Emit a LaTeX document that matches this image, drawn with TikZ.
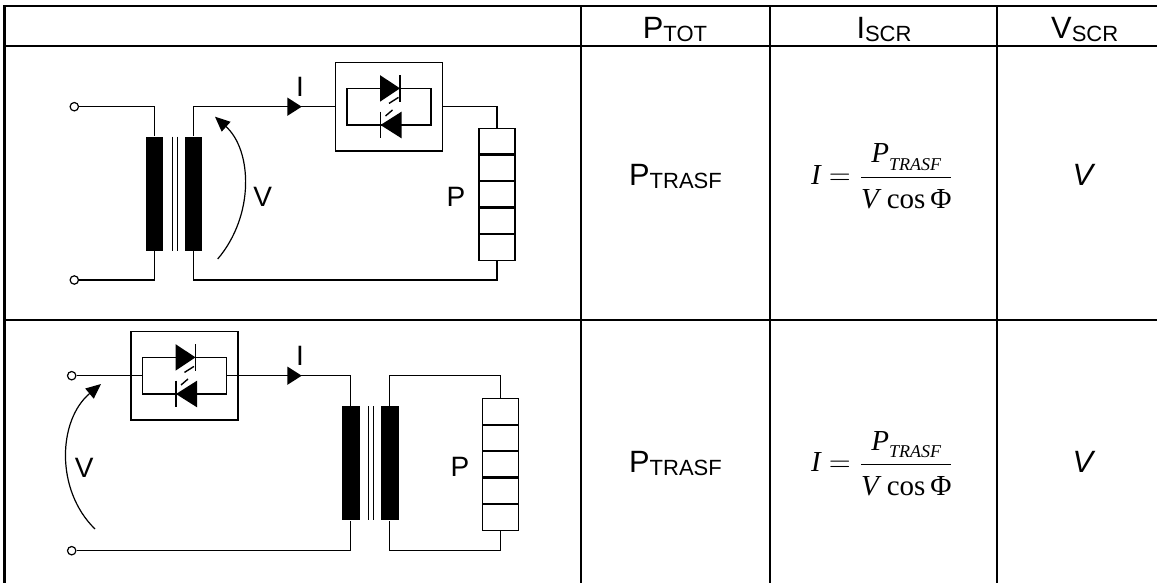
\documentclass[tikz,border=0pt]{standalone}
\usepackage{amsmath}
\usepackage{fontspec}
\setmainfont{Liberation Sans}
\newfontfamily\tms{Liberation Serif}
\usetikzlibrary{arrows.meta}

\newcommand\lowsub[1]{\raisebox{-1.8pt}{\fontsize{11}{13}\selectfont #1}}
\newcommand\iform{$\mbox{\tms\itshape I}=\dfrac{\mbox{\tms\itshape P\raisebox{-3.7pt}{\fontsize{9}{10}\selectfont TRASF}}\rule[-5.2pt]{0pt}{0pt}}{\rule{0pt}{13.4pt}\mbox{\tms\itshape V}\;\mbox{\tms cos}\,\mbox{\tms Φ}}$}

\begin{document}
\begin{tikzpicture}[x=0.5pt, y=-0.5pt,
        grid/.style={line width=1.1pt},
        wire/.style={line width=0.6pt},
        term/.style={circle, draw, fill=white, line width=0.6pt, inner sep=0pt, minimum size=4.2pt},
        winding/.style={fill=black, inner sep=0pt, minimum width=8.65pt, minimum height=57pt},
        scrbox/.style={draw, line width=0.75pt, inner sep=0pt, minimum width=53.5pt, minimum height=44.3pt},
        scrloop/.style={draw, line width=0.6pt, inner sep=0pt, minimum width=42pt, minimum height=18.3pt},
        loadbox/.style={draw, line width=0.6pt, inner sep=0pt, minimum width=18pt, minimum height=66pt},
        divider/.style={line width=1.1pt},
        gate/.style={line width=0.7pt},
        hdr/.style={font=\fontsize{15.4}{18}\selectfont, anchor=base, inner sep=0pt},
        lbl/.style={font=\fontsize{14}{16}\selectfont, anchor=base, inner sep=0pt},
        fml/.style={font=\fontsize{14.5}{17}\selectfont, anchor=base, inner sep=0pt},
        varrow/.style={line width=0.6pt, -{Triangle[length=7.5pt, width=6.5pt]}},
        trafo/.pic={
            \node[winding] (-p) at (-19.5,0) {};
            \node[winding] (-s) at (19.5,0) {};
            \draw[wire] (-2,-57) -- (-2,57);
            \draw[wire] (3,-57) -- (3,57);
        },
        scr/.pic={
            \node[scrbox] (-box) {};
            \node[scrloop] (-loop) {};
            \fill (-9,-31.6) -- (11,-18.3) -- (-9,-5) -- cycle;
            \draw[wire, line width=0.8pt] (11,-31.6) -- (11,-5);
            \draw[gate] (9.5,-9.3) -- (0,-3.3);
            \fill (12.5,5) -- (-8.5,18.3) -- (12.5,31.6) -- cycle;
            \draw[wire, line width=0.8pt] (-8.5,5) -- (-8.5,31.6);
            \draw[gate] (-3.5,9.3) -- (3.5,3.3);
        },
        load/.pic={
            \node[loadbox] (-r) {};
            \foreach \k in {1,...,4}
                \draw[divider] (-18,{-66+26.4*\k}) -- (18,{-66+26.4*\k});
        },
        cur/.pic={
            \fill (0,0) -- (-14.4,-9.2) -- (-14.4,9.2) -- cycle;
            \node[lbl] (-lab) at (-1.7,-10) {I};
        }]
        \useasboundingbox (0,0) rectangle (1157,583);

        % table
        \draw[grid] (4.5,583) -- (4.5,6) -- (1157,6);
        \draw[grid] (4.5,45.7) -- (1157,45.7);
        \draw[grid] (4.5,320) -- (1157,320);
        \foreach \cx in {580.7,770,996.7}
            \draw[grid] (\cx,6) -- (\cx,583);

        \node[hdr] (hp) at (675,38.3) {P\lowsub{TOT}};
        \node[hdr] (hi) at (884,38.3) {I\lowsub{SCR}};
        \node[hdr] (hv) at (1084.7,38.3) {V\lowsub{SCR}};

        % first row: SCR on the secondary side
        \node[term] (ta1) at (74.3,106.7) {};
        \node[term] (tb1) at (74.3,280) {};
        \pic (t1) at (174.15,193.7) {trafo};
        \pic (s1) at (389,106.7) {scr};
        \pic (r1) at (497,194.2) {load};
        \draw[wire] (ta1) -| (t1-p.north);
        \draw[wire] (tb1) -| (t1-p.south);
        \draw[wire] (t1-s.north) |- (s1-box.west);
        \draw[wire] (s1-box.east) -| (r1-r.north);
        \draw[wire] (r1-r.south) |- (t1-s.south |- tb1) -- (t1-s.south);
        \pic (c1) at (301.7,106.7) {cur};
        \draw[varrow] (217.7,259) .. controls (255,215) and (252,150) .. (215,116.7);
        \node[lbl] (v1) at (262.7,206) {V};
        \node[lbl] (p1) at (456,206) {P};

        \node[hdr] (pt1) at (675.5,185) {P\lowsub{TRASF}};
        \node[fml] (f1) at (882.5,184.5) {\iform};
        \node[hdr] (vs1) at (1083,185) {\itshape V};

        % second row: SCR on the primary side
        \node[term] (ta2) at (71.7,375.7) {};
        \node[term] (tb2) at (71.7,550.7) {};
        \pic (s2) at (184.5,375.7) {scr};
        \pic (t2) at (370.35,463.35) {trafo};
        \pic (r2) at (500.8,464.2) {load};
        \draw[wire] (ta2) -- (s2-loop.west);
        \draw[wire] (s2-loop.east) -| (t2-p.north);
        \draw[wire] (tb2) -| (t2-p.south);
        \draw[wire] (t2-s.north) |- (r2-r.north |- ta2) -- (r2-r.north);
        \draw[wire] (r2-r.south) |- (t2-s.south |- tb2) -- (t2-s.south);
        \pic (c2) at (301.7,375.7) {cur};
        \draw[varrow] (95,529) .. controls (55,490) and (58,420) .. (101,384);
        \node[lbl] (v2) at (84.3,477) {V};
        \node[lbl] (p2) at (460,476) {P};

        \node[hdr] (pt2) at (675.5,472.3) {P\lowsub{TRASF}};
        \node[fml] (f2) at (882.5,471.8) {\iform};
        \node[hdr] (vs2) at (1083,472.3) {\itshape V};
    \end{tikzpicture}
\end{document}
